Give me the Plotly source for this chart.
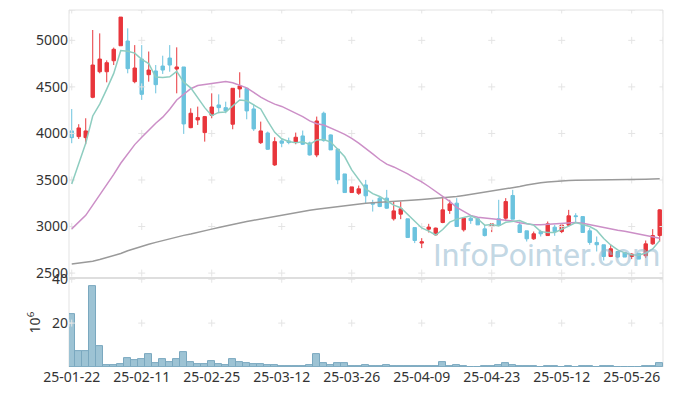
import plotly.graph_objects as go
from plotly.subplots import make_subplots

# ---- data ----
tick_idx = [0, 10, 20, 30, 40, 50, 60, 70, 80]
tick_labels = ["25-01-22", "25-02-11", "25-02-25", "25-03-12", "25-03-26",
               "25-04-09", "25-04-23", "25-05-12", "25-05-26"]

opens = [4027, 3966, 3955, 4388, 4663, 4663, 4781, 4942, 4993, 4556,
         4799, 4631, 4671, 4724, 4810, 4692, 4714, 4062, 4145, 4009,
         4195, 4306, 4277, 4099, 4478, 4485, 4263, 3901, 4005, 3662,
         3920, 3920, 3906, 3973, 3898, 3769, 4217, 3984, 3830, 3565,
         3365, 3358, 3447, 3258, 3305, 3305, 3083, 3133, 3083, 2989,
         2822, 2972, 2911, 3043, 3172, 3251, 2965, 3090, 3083, 2975,
         3000, 3083, 3090, 3333, 3018, 2954, 2868, 2946, 2903, 2993,
         2946, 3015, 3115, 3107, 2954, 2829, 2804, 2678, 2732, 2721,
         2678, 2714, 2686, 2814, 2903]
highs = [4262, 4099, 4163, 5111, 5075, 4785, 4922, 5250, 5129, 4949,
         4949, 4880, 4735, 4835, 4949, 4925, 4714, 4270, 4288, 4188,
         4431, 4420, 4341, 4485, 4657, 4485, 4306, 4127, 4020, 3959,
         3948, 3955, 4009, 4031, 3912, 4181, 4234, 3990, 3841, 3565,
         3426, 3440, 3501, 3287, 3322, 3394, 3268, 3268, 3083, 2989,
         2875, 3029, 2989, 3305, 3287, 3305, 3090, 3107, 3090, 3018,
         3029, 3287, 3305, 3394, 3054, 2954, 2946, 2965, 3054, 3018,
         3036, 3179, 3143, 3107, 2983, 2893, 2804, 2804, 2732, 2721,
         2714, 2714, 2850, 2972, 3187]
lows = [3895, 3941, 3884, 4378, 4646, 4549, 4735, 4942, 4646, 4539,
        4360, 4556, 4431, 4639, 4663, 4431, 3995, 4056, 4091, 3912,
        4163, 4217, 4217, 4045, 4384, 4152, 4027, 3887, 3823, 3651,
        3852, 3884, 3884, 3877, 3762, 3745, 3912, 3823, 3455, 3365,
        3365, 3340, 3251, 3161, 3208, 3190, 3064, 3079, 2882, 2822,
        2768, 2936, 2900, 3036, 3136, 3000, 2946, 3029, 3018, 2893,
        2940, 3011, 3072, 3079, 2936, 2839, 2857, 2893, 2903, 2900,
        2929, 3000, 3036, 2936, 2804, 2732, 2635, 2672, 2660, 2672,
        2650, 2650, 2661, 2804, 2839]
closes = [3955, 4059, 4027, 4735, 4799, 4760, 4904, 5250, 4696, 4703,
          4420, 4681, 4524, 4681, 4735, 4714, 4102, 4217, 4170, 4181,
          4284, 4277, 4242, 4485, 4510, 4242, 4049, 4027, 3830, 3912,
          3895, 3902, 3959, 3884, 3769, 4134, 3923, 3823, 3501, 3365,
          3426, 3405, 3330, 3240, 3215, 3197, 3168, 3190, 2882, 2850,
          2836, 2994, 2983, 3179, 3243, 3000, 3090, 3064, 3018, 2903,
          3029, 3011, 3268, 3079, 2936, 2868, 2922, 2922, 3029, 2946,
          3015, 3115, 3107, 2936, 2829, 2804, 2678, 2761, 2672, 2672,
          2704, 2650, 2814, 2903, 3179]

ma5 = [3458, 3680, 3895, 4188, 4315, 4476, 4645, 4890, 4882, 4863,
       4795, 4750, 4605, 4602, 4608, 4667, 4551, 4490, 4388, 4277,
       4191, 4226, 4231, 4294, 4360, 4351, 4306, 4263, 4132, 4012,
       3943, 3913, 3900, 3910, 3882, 3930, 3934, 3907, 3830, 3749,
       3608, 3504, 3405, 3353, 3323, 3277, 3230, 3202, 3130, 3057,
       2985, 2950, 2909, 2968, 3047, 3080, 3099, 3115, 3083, 3015,
       3021, 3005, 3046, 3058, 3065, 3032, 3015, 2945, 2935, 2937,
       2967, 3005, 3042, 3024, 3000, 2958, 2871, 2802, 2749, 2717,
       2697, 2692, 2715, 2760, 2850]
ma20 = [2975, 3050, 3120, 3230, 3340, 3440, 3560, 3680, 3780, 3880,
        3960, 4040, 4110, 4175, 4260, 4360, 4420, 4480, 4515, 4525,
        4540, 4550, 4558, 4545, 4520, 4490, 4440, 4390, 4350, 4315,
        4290, 4255, 4220, 4180, 4135, 4105, 4090, 4060, 4025, 3990,
        3948, 3895, 3840, 3780, 3720, 3670, 3640, 3605, 3565, 3520,
        3480, 3430, 3375, 3320, 3270, 3205, 3160, 3120, 3100, 3090,
        3080, 3075, 3068, 3060, 3040, 3030, 3020, 3020, 3025, 3028,
        3035, 3040, 3042, 3036, 3020, 3000, 2985, 2972, 2960, 2950,
        2935, 2918, 2898, 2885, 2875]
ma120 = [2597, 2605, 2615, 2628, 2645, 2665, 2685, 2710, 2740, 2765,
         2790, 2810, 2830, 2850, 2870, 2890, 2905, 2920, 2935, 2955,
         2972, 2990, 3008, 3025, 3042, 3055, 3068, 3082, 3095, 3108,
         3120, 3135, 3148, 3160, 3175, 3185, 3195, 3205, 3215, 3225,
         3233, 3242, 3250, 3256, 3262, 3267, 3272, 3276, 3280, 3285,
         3290, 3295, 3300, 3307, 3315, 3322, 3333, 3345, 3355, 3367,
         3378, 3390, 3400, 3415, 3430, 3445, 3460, 3470, 3478, 3485,
         3490, 3494, 3496, 3498, 3500, 3501, 3502, 3503, 3504, 3505,
         3506, 3508, 3509, 3510, 3512]
volume_m = [24.2, 7.4, 7.4, 37.0, 9.7, 0.9, 0.9, 1.5, 4.1, 3.2,
            3.6, 5.9, 1.8, 3.4, 2.4, 3.4, 6.8, 2.4, 1.4, 1.4,
            2.9, 1.5, 1.0, 3.6, 2.4, 1.8, 1.4, 1.4, 1.0, 1.0,
            0.6, 0.6, 0.6, 0.6, 1.0, 5.9, 1.8, 1.0, 1.8, 1.8,
            0.4, 0.4, 0.9, 0.4, 0.4, 0.9, 0.4, 0.4, 0.4, 0.4,
            0.4, 0.4, 0.4, 2.3, 0.4, 0.9, 0.4, 0.0, 0.0, 0.4,
            0.4, 0.9, 1.8, 0.9, 0.4, 0.4, 0.4, 0.0, 0.4, 0.4,
            0.0, 0.4, 0.0, 0.4, 0.4, 0.0, 0.4, 0.4, 0.0, 0.0,
            0.0, 0.0, 0.4, 0.4, 1.8]
price_ticks = [2500, 3000, 3500, 4000, 4500, 5000]
volume_ticks = [20, 40]

# ---- figure ----
idx = list(range(len(closes)))
x_range = [-0.39, 84.47]
price_range = [2446, 5326]
vol_range = [0, 40.5]
FONT = "Noto Sans"
RED = "#e8363c"
BLUE = "#6cc3de"
GRID = "#e4e4e4"

fig = make_subplots(rows=2, cols=1, shared_xaxes=True, vertical_spacing=0,
                    row_heights=[0.751, 0.249])

# grid crosses
cx, cy = [], []
for xv in tick_idx + [x_range[0], x_range[1]]:
    for yv in price_ticks + [price_range[1]]:
        cx.append(xv)
        cy.append(yv)
fig.add_trace(go.Scatter(x=cx, y=cy, mode="markers", hoverinfo="skip",
                         marker=dict(symbol="cross-thin", size=5,
                                     line=dict(color=GRID, width=1))),
              row=1, col=1)
vx, vy = [], []
for xv in tick_idx + [x_range[0], x_range[1]]:
    for yv in volume_ticks:
        vx.append(xv)
        vy.append(yv)
fig.add_trace(go.Scatter(x=vx, y=vy, mode="markers", hoverinfo="skip",
                         marker=dict(symbol="cross-thin", size=5,
                                     line=dict(color=GRID, width=1))),
              row=2, col=1)

fig.add_trace(go.Scatter(x=idx, y=ma120, mode="lines",
                         line=dict(color="#9a9a9a", width=1.5)), row=1, col=1)
fig.add_trace(go.Scatter(x=idx, y=ma20, mode="lines",
                         line=dict(color="#cc8fc7", width=1.5)), row=1, col=1)
fig.add_trace(go.Scatter(x=idx, y=ma5, mode="lines",
                         line=dict(color="#8ecdc0", width=1.5)), row=1, col=1)

fig.add_trace(go.Candlestick(
    x=idx, open=opens, high=highs, low=lows, close=closes,
    increasing=dict(line=dict(color=RED, width=1), fillcolor=RED),
    decreasing=dict(line=dict(color=BLUE, width=1), fillcolor=BLUE),
    whiskerwidth=0), row=1, col=1)

fig.add_trace(go.Bar(x=idx, y=volume_m, marker=dict(color="#9dc3d4",
                     line=dict(color="#7aa8bf", width=1))), row=2, col=1)

fig.update_layout(
    width=673, height=396,
    margin=dict(l=69, r=10, t=10, b=29, autoexpand=False),
    paper_bgcolor="white", plot_bgcolor="white",
    showlegend=False, bargap=0, boxgap=0.3,
    font=dict(family=FONT, size=14, color="#333333"),
)
fig.update_xaxes(range=x_range, showgrid=False, zeroline=False,
                 tickmode="array", tickvals=tick_idx, ticktext=tick_labels,
                 ticks="", automargin=False,
                 rangeslider=dict(visible=False))
fig.update_xaxes(showticklabels=False, row=1, col=1)
fig.update_xaxes(tickfont=dict(size=14), row=2, col=1)
fig.update_yaxes(range=price_range, tickvals=price_ticks, showgrid=False,
                 zeroline=False, ticks="", automargin=False, row=1, col=1)
fig.update_yaxes(range=vol_range, tickvals=volume_ticks, showgrid=False,
                 zeroline=False, ticks="", automargin=False,
                 title=dict(text="10<sup>6</sup>", standoff=8,
                            font=dict(size=14)), row=2, col=1)

# frame
LINE = "#e3e3e3"
fig.add_shape(type="rect", xref="paper", yref="paper", x0=0, x1=1,
              y0=0.249, y1=1, line=dict(color=LINE, width=1), layer="below")
fig.add_shape(type="line", xref="paper", yref="paper", x0=0, x1=1,
              y0=0.249, y1=0.249, line=dict(color="#dedede", width=2))
fig.add_shape(type="line", xref="paper", yref="paper", x0=0, x1=0,
              y0=0, y1=0.249, line=dict(color=LINE, width=1), layer="below")
fig.add_shape(type="line", xref="paper", yref="paper", x0=1, x1=1,
              y0=0, y1=0.249, line=dict(color=LINE, width=1), layer="below")

fig.add_annotation(text="InfoPointer.com", xref="paper", yref="paper",
                   x=0.804, y=0.314, xanchor="center", yanchor="middle",
                   showarrow=False,
                   font=dict(family="Roboto", size=32,
                             color="rgba(150,186,208,0.58)"))

fig.write_html("out.html", config={"displayModeBar": False},
               post_script="document.body.style.margin='0px';")
